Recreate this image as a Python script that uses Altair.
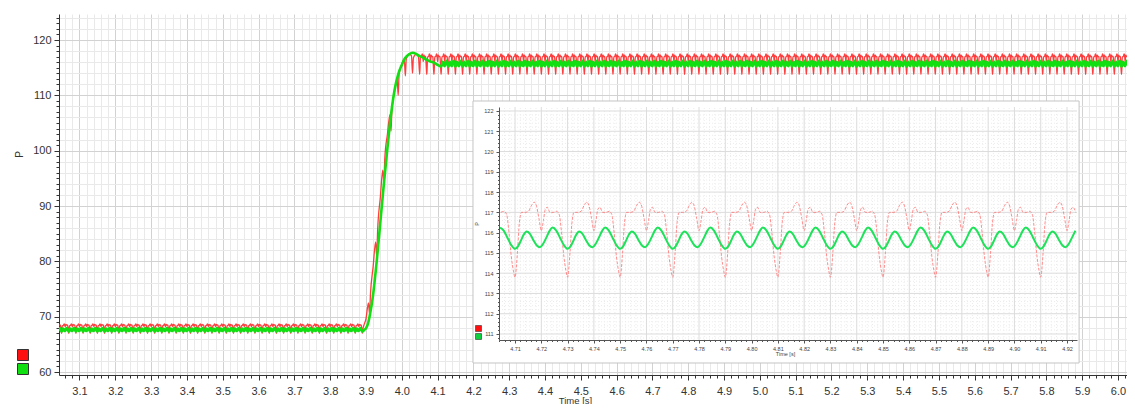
import altair as alt
import pandas as pd

FONT = "Liberation Sans"
RED = "#ff2a2a"
GREEN = "#12df12"
INSET_RED = "#ff7070"
INSET_GREEN = "#1ee25a"

# ---------------- main chart scales / ticks ----------------
main_x_domain = [3.0428, 6.0252]
main_y_domain = [59.46, 124.70]
main_x_ticks = [round(3.06 + 0.02 * i, 2) for i in range(149)]   # 3.06 ... 6.02
main_y_ticks = list(range(60, 125))

# ---------------- inset scales / ticks ----------------
inset_x_domain = [4.7039, 4.9238]
inset_y_domain = [110.704, 122.197]
inset_x_range = [440, 1018]
inset_y_range = [326, 93]
inset_x_ticks = [round(4.704 + 0.002 * i, 3) for i in range(110)]  # 4.704 ... 4.922
inset_y_ticks = [round(110.8 + 0.2 * i, 1) for i in range(57)]     # 110.8 ... 122.0
inset_frame = {"fx0": 4.6940, "fx1": 4.9246, "fy0": 109.57, "fy1": 122.493}

# ---------------- one 0.02 s cycle ----------------
# phase in ms from the deep dip of the red trace
red_phase = [0.0, 0.9, 1.65, 2.5, 3.8, 5.1, 6.3, 7.3, 8.2, 9.1, 10.0, 10.8, 11.5, 12.3,
             13.3, 14.6, 15.8, 16.8, 17.7, 18.6, 19.4]
red_val = [113.8, 115.0, 116.5, 117.0, 117.0, 117.05, 117.35, 117.5, 117.3, 116.7, 116.1,
           116.6, 117.15, 117.25, 117.0, 117.0, 117.05, 116.9, 116.0, 114.8, 114.1]
red_pre_val = [67.0, 67.5, 68.1, 68.4, 68.4, 68.45, 68.6, 68.7, 68.6, 68.4, 68.2, 68.35,
               68.55, 68.6, 68.5, 68.5, 68.5, 68.45, 68.1, 67.6, 67.2]
green_phase = [0.0, 1.1, 2.2, 3.3, 4.4, 5.6, 6.9, 8.2, 9.5, 10.7, 12.0, 13.2, 14.3, 15.7,
               17.1, 18.5]
green_val = [115.2, 115.32, 115.6, 115.9, 116.05, 115.95, 115.65, 115.38, 115.28, 115.45,
             115.78, 116.1, 116.25, 116.1, 115.75, 115.4]
green_pre_val = [67.3, 67.38, 67.55, 67.75, 67.85, 67.8, 67.6, 67.45, 67.4, 67.5, 67.7,
                 67.9, 67.95, 67.85, 67.65, 67.45]

# step transient
red_tr_t = [3.890, 3.8915, 3.894, 3.900, 3.907, 3.910, 3.9125, 3.920, 3.927, 3.930, 3.9325,
            3.940, 3.947, 3.950, 3.9525, 3.960, 3.967, 3.970, 3.9725, 3.980, 3.987, 3.990,
            3.9925, 4.000, 4.007, 4.010, 4.0125, 4.020, 4.027, 4.030, 4.0325, 4.040, 4.0465]
red_tr_p = [67.0, 67.8, 68.4, 69.6, 72.5, 70.5, 74.0, 79.0, 83.5, 81.0, 85.5,
            91.5, 96.5, 94.0, 98.5, 103.0, 106.5, 103.5, 107.5, 110.8, 113.0, 110.0,
            113.8, 115.6, 116.6, 113.5, 116.5, 117.4, 117.2, 114.0, 116.8, 117.4, 117.0]
green_tr_t = [3.890, 3.895, 3.900, 3.905, 3.910, 3.920, 3.930, 3.940, 3.950, 3.960, 3.970,
              3.980, 3.990, 4.000, 4.010, 4.020, 4.030, 4.040, 4.050, 4.060, 4.070, 4.080,
              4.090, 4.100]
green_tr_p = [67.3, 67.6, 67.9, 68.6, 70.0, 74.0, 80.0, 87.0, 94.0, 100.5, 106.5,
              111.0, 113.8, 115.5, 116.8, 117.4, 117.7, 117.5, 117.1, 116.8, 116.4, 116.1,
              115.9, 115.5]


def repeat_cycle(t0, n, phases, values):
    rows = []
    for k in range(n):
        base = t0 + 0.02 * k
        for p, v in zip(phases, values):
            rows.append((round(base + p / 1000.0, 5), v))
    return rows


main_red = (repeat_cycle(3.03, 43, red_phase, red_pre_val)
            + list(zip(red_tr_t, red_tr_p))
            + repeat_cycle(4.05, 100, red_phase, red_val))
main_green = (repeat_cycle(3.03, 43, green_phase, green_pre_val)
              + list(zip(green_tr_t, green_tr_p))
              + repeat_cycle(4.11, 97, green_phase, green_val))
inset_red = [r for r in repeat_cycle(4.69, 12, red_phase, red_val)
             if inset_x_domain[0] <= r[0] <= inset_x_domain[1]]
inset_green = [r for r in repeat_cycle(4.69, 12, green_phase, green_val)
               if inset_x_domain[0] <= r[0] <= inset_x_domain[1]]

df_main_red = pd.DataFrame(main_red, columns=["t", "P"])
df_main_green = pd.DataFrame(main_green, columns=["t", "P"])
df_inset_red = pd.DataFrame(inset_red, columns=["t", "P"])
df_inset_green = pd.DataFrame(inset_green, columns=["t", "P"])

# ---------------- axes ----------------
MAJX = "abs(datum.value*10 - round(datum.value*10)) < 0.0001"
MAJY = "datum.value % 10 === 0"
main_x_axis = alt.Axis(
    values=main_x_ticks, labelExpr=f"{MAJX} ? format(datum.value, '.1f') : ''",
    labelOverlap=False, labelFlush=False,
    tickSize={"condition": {"test": MAJX, "value": 5}, "value": 3},
    grid=True, gridWidth=1,
    gridColor={"condition": {"test": MAJX, "value": "#d2d2d2"}, "value": "#e9e9e9"},
    domainColor="#333333", tickColor="#333333",
    labelFont=FONT, labelFontSize=11, labelColor="#333333", labelPadding=5,
    title="Time [s]", titleFont=FONT, titleFontSize=9.5, titleFontWeight="normal",
    titleColor="#333333", titleX=516, titleY=25, titleBaseline="middle", zindex=0)
main_y_axis = alt.Axis(
    values=main_y_ticks, labelExpr=f"{MAJY} ? format(datum.value, 'd') : ''",
    labelOverlap=False, labelFlush=False,
    tickSize={"condition": {"test": MAJY, "value": 5}, "value": 3},
    grid=True, gridWidth=1,
    gridColor={"condition": {"test": MAJY, "value": "#d2d2d2"}, "value": "#e9e9e9"},
    gridOpacity={"condition": {"test": "datum.value % 2 === 0", "value": 1}, "value": 0},
    domainColor="#333333", tickColor="#333333",
    labelFont=FONT, labelFontSize=11, labelColor="#333333", labelPadding=3,
    title="P", titleFont=FONT, titleFontSize=10, titleFontWeight="normal",
    titleColor="#333333", titleX=-35, titleY=140, zindex=0)

IMAJX = "abs(datum.value*100 - round(datum.value*100)) < 0.0001"
IMAJY = "abs(datum.value - round(datum.value)) < 0.0001"
inset_x_axis = alt.Axis(
    orient="bottom", offset=-35, values=inset_x_ticks,
    labelExpr=f"{IMAJX} ? format(datum.value, '.2f') : ''",
    labelOverlap=False, labelFlush=False,
    tickSize={"condition": {"test": IMAJX, "value": 3}, "value": 1.5},
    grid=False, domainColor="#555555", tickColor="#555555",
    labelFont=FONT, labelFontSize=5.5, labelColor="#444444", labelPadding=3,
    title="Time [s]", titleFont=FONT, titleFontSize=5.5, titleFontWeight="normal",
    titleColor="#444444", titlePadding=0, titleX=726, zindex=1)
inset_y_axis = alt.Axis(
    orient="left", offset=-440, values=inset_y_ticks,
    labelExpr=f"{IMAJY} ? format(datum.value, 'd') : ''",
    labelOverlap=False, labelFlush=False,
    tickSize={"condition": {"test": IMAJY, "value": 3}, "value": 1.5},
    grid=False, domainColor="#555555", tickColor="#555555",
    labelFont=FONT, labelFontSize=5.5, labelColor="#444444", labelPadding=3,
    title="P", titleFont=FONT, titleFontSize=5.5, titleFontWeight="normal",
    titleColor="#444444", titlePadding=4, zindex=1)

MXS = alt.Scale(domain=main_x_domain, nice=False, zero=False)
MYS = alt.Scale(domain=main_y_domain, nice=False, zero=False)
IXS = alt.Scale(domain=inset_x_domain, range=inset_x_range, nice=False, zero=False)
IYS = alt.Scale(domain=inset_y_domain, range=inset_y_range, nice=False, zero=False)


def mx(f):
    return alt.X(f, scale=MXS, axis=main_x_axis)


def my(f):
    return alt.Y(f, scale=MYS, axis=main_y_axis)


def ix(f):
    return alt.X(f, scale=IXS, axis=inset_x_axis)


def iy(f):
    return alt.Y(f, scale=IYS, axis=inset_y_axis)


# ---------------- main layer ----------------
red_line = alt.Chart(df_main_red).mark_line(
    color=RED, strokeWidth=1.3, opacity=0.9, clip=True, interpolate="monotone"
).encode(x=mx("t:Q"), y=my("P:Q"))
green_line = alt.Chart(df_main_green).mark_line(
    color=GREEN, strokeWidth=2.6, clip=True, interpolate="monotone"
).encode(x=mx("t:Q"), y=my("P:Q"))
main_layer = alt.layer(red_line, green_line)

# ---------------- inset layer ----------------
frame = alt.Chart(pd.DataFrame([inset_frame])).mark_rect(
    fill="white", stroke="#c4c4c4", strokeWidth=1, clip=False
).encode(x=ix("fx0:Q"), x2="fx1:Q", y=iy("fy0:Q"), y2="fy1:Q")

vmaj = [round(4.71 + 0.01 * i, 2) for i in range(22)]
vmin = [v for v in inset_x_ticks if abs(v * 100 - round(v * 100)) > 1e-6]
hmaj = list(range(111, 123))
hmin = [v for v in inset_y_ticks if abs(v - round(v)) > 1e-6]

df_v = pd.DataFrame({"gx": vmaj + vmin,
                     "kind": ["maj"] * len(vmaj) + ["min"] * len(vmin)})
df_v["gy0"] = inset_y_domain[0]
df_v["gy1"] = inset_y_domain[1]
df_h = pd.DataFrame({"gy": hmaj + hmin,
                     "kind": ["maj"] * len(hmaj) + ["min"] * len(hmin)})
df_h["gx0"] = inset_x_domain[0]
df_h["gx1"] = inset_x_domain[1]

vgrid_maj = alt.Chart(df_v).transform_filter("datum.kind == 'maj'").mark_rule(
    color="#dcdcdc", strokeWidth=1
).encode(x=ix("gx:Q"), y=iy("gy0:Q"), y2="gy1:Q")
vgrid_min = alt.Chart(df_v).transform_filter("datum.kind == 'min'").mark_rule(
    color="#ececec", strokeWidth=1, strokeDash=[1, 2]
).encode(x=ix("gx:Q"), y=iy("gy0:Q"), y2="gy1:Q")
hgrid_maj = alt.Chart(df_h).transform_filter("datum.kind == 'maj'").mark_rule(
    color="#dcdcdc", strokeWidth=1
).encode(y=iy("gy:Q"), x=ix("gx0:Q"), x2="gx1:Q")
hgrid_min = alt.Chart(df_h).transform_filter("datum.kind == 'min'").mark_rule(
    color="#ececec", strokeWidth=1, strokeDash=[1, 2]
).encode(y=iy("gy:Q"), x=ix("gx0:Q"), x2="gx1:Q")

inset_red_line = alt.Chart(df_inset_red).mark_line(
    color=INSET_RED, strokeWidth=1, opacity=0.8, strokeDash=[3, 1.5],
    interpolate="monotone", clip=False
).encode(x=ix("t:Q"), y=iy("P:Q"))
inset_green_line = alt.Chart(df_inset_green).mark_line(
    color=INSET_GREEN, strokeWidth=2, interpolate="monotone", clip=False
).encode(x=ix("t:Q"), y=iy("P:Q"))

inset_layer = alt.layer(frame, vgrid_min, hgrid_min, vgrid_maj, hgrid_maj,
                        inset_red_line, inset_green_line)

# ---------------- legends (coloured squares) ----------------
legend_main = alt.Chart(pd.DataFrame({"s": ["P1", "P2"]})).transform_filter(
    "false").mark_square(filled=True).encode(
    color=alt.Color("s:N", scale=alt.Scale(domain=["P1", "P2"], range=["#ff1010", "#10e010"]),
                    legend=alt.Legend(orient="none", legendX=-42, legendY=335, title=None,
                                      symbolType="square", symbolSize=121,
                                      symbolStrokeColor="#333333", symbolStrokeWidth=1,
                                      symbolOpacity=1, labelExpr="''", labelFontSize=1,
                                      rowPadding=-5, padding=0)))
legend_inset = alt.Chart(pd.DataFrame({"q": ["Q1", "Q2"]})).transform_filter(
    "false").mark_square(filled=True).encode(
    color=alt.Color("q:N", scale=alt.Scale(domain=["Q1", "Q2"], range=["#ff1010", "#10d040"]),
                    legend=alt.Legend(orient="none", legendX=416, legendY=311, title=None,
                                      symbolType="square", symbolSize=36,
                                      symbolStrokeColor="#333333", symbolStrokeWidth=0.6,
                                      symbolOpacity=1, labelExpr="''", labelFontSize=1,
                                      rowPadding=-5, padding=0)))

chart = alt.layer(main_layer, inset_layer, legend_main, legend_inset).resolve_scale(
    x="independent", y="independent", color="independent"
).properties(
    width=1068, height=361,
    autosize=alt.AutoSizeParams(type="none"),
    padding={"left": 51, "top": 6, "right": 0, "bottom": 29},
    background="white",
).configure_view(strokeWidth=0)

chart.save("out.html", embed_options={"renderer": "svg", "actions": False})
